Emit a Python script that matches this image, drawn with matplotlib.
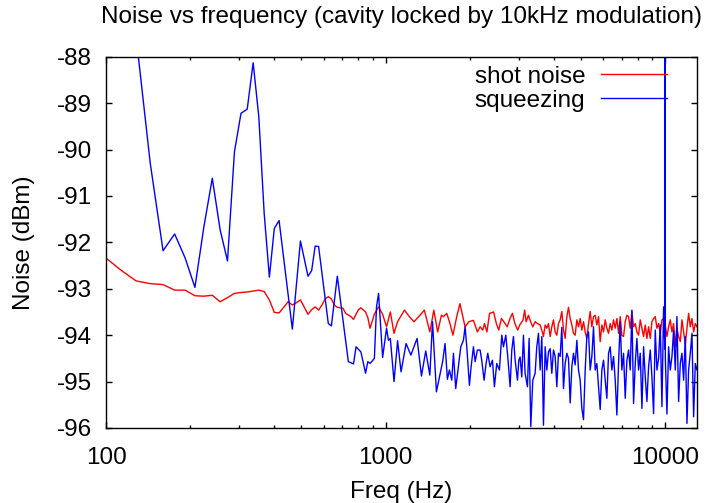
import matplotlib
matplotlib.use('Agg')
import matplotlib.pyplot as plt
from matplotlib.ticker import LogLocator, NullFormatter

plt.rcParams['font.family'] = ['Liberation Sans', 'DejaVu Sans']
plt.rcParams['axes.unicode_minus'] = False

# ---- data (Hz, dBm) ----
# low/mid frequency part of the shot noise trace
red_freq_low = [96, 112, 128, 144, 160, 176, 192, 208, 224, 240, 256, 272, 288, 304,
                320, 336, 352, 368, 384, 400, 416,
                432, 448, 464, 480, 496, 512, 528, 544, 560, 576, 592, 608, 624, 640, 656, 672,
                704, 720, 752, 768, 784, 800, 816, 848, 864, 880, 912, 944, 976, 1008, 1040,
                1072, 1104, 1168, 1216, 1264, 1328, 1376, 1440, 1488, 1536, 1584,
                1610, 1655, 1700, 1741, 1797, 1845, 1925, 1987, 2062, 2131, 2178, 2227, 2258,
                2304, 2355, 2435, 2490, 2540, 2597, 2648, 2724, 2787, 2843, 2901, 2968, 3020,
                3099, 3144, 3182, 3244, 3289, 3361, 3427, 3496]
red_db_low = [-92.25, -92.58, -92.83, -92.89, -92.91, -93.03, -93.03, -93.15, -93.16, -93.14,
              -93.28, -93.19, -93.10, -93.08, -93.07, -93.05, -93.03, -93.06, -93.24, -93.51,
              -93.52,
              -93.40, -93.28, -93.35, -93.30, -93.24, -93.40, -93.55, -93.45, -93.39, -93.46,
              -93.35, -93.22, -93.17, -93.22, -93.35, -93.40,
              -93.42, -93.53, -93.60, -93.66, -93.55, -93.45, -93.41, -93.50, -93.62, -93.85,
              -93.55, -93.39, -93.55, -93.82, -93.50, -93.96, -93.71, -93.46, -93.60, -93.71,
              -93.57, -93.46, -93.93, -93.46, -93.93, -93.57,
              -93.60, -93.53, -93.75, -94.00, -93.60, -93.32, -93.82, -93.71, -93.68, -93.93,
              -93.82, -93.89, -93.75, -93.93, -93.53, -93.50, -93.75, -93.89, -93.64, -93.71,
              -93.82, -93.64, -93.53, -93.75, -93.89, -93.78, -93.68, -93.46, -93.71, -93.57,
              -93.68, -93.82, -93.71, -93.75]

# low/mid frequency part of the squeezing trace
blue_freq_low = [96, 112, 128, 144, 160, 176, 192, 208, 224, 240, 256, 272, 288, 304,
                 320, 336, 352, 368, 384, 400, 416,
                 464, 496, 528, 544, 560, 576, 624, 640, 672,
                 736, 768, 784, 816, 848, 864, 880, 912, 928, 944, 976,
                 1008, 1024, 1040, 1072, 1104, 1136, 1184, 1232, 1296, 1344, 1392, 1440, 1472,
                 1520, 1600, 1632, 1664,
                 1692, 1725, 1749, 1782, 1822, 1858, 1899, 1925, 1952, 1995,
                 2023, 2062, 2091, 2131, 2178, 2208, 2251, 2288, 2320, 2365,
                 2411, 2451, 2498, 2554, 2604, 2640, 2692, 2736, 2789, 2828,
                 2867, 2907, 2963, 2996, 3028, 3070, 3113, 3155, 3217, 3262,
                 3307, 3362, 3427, 3474, 3523]
blue_db_low = [-84.0, -85.8, -87.54, -90.30, -92.18, -91.82, -92.34, -92.97, -91.66, -90.62,
               -91.73, -92.40, -90.05, -89.22, -89.13, -88.13, -89.29, -91.38, -92.75, -91.70,
               -91.53,
               -93.87, -91.97, -92.73, -92.61, -92.08, -92.09, -93.75, -93.80, -92.73,
               -94.57, -94.62, -94.25, -94.36, -94.82, -94.57, -94.61, -94.50, -93.39, -93.10,
               -94.48,
               -93.85, -94.11, -94.07, -95.00, -94.12, -94.79, -94.18, -94.43, -94.07, -94.88,
               -94.34, -94.86, -93.71, -95.22, -94.57, -94.18, -94.95,
               -94.75, -94.97, -94.39, -95.15, -94.68, -94.25, -94.11, -93.82, -94.25, -95.08,
               -94.68, -94.25, -94.57, -94.32, -94.32, -94.54, -94.97, -94.61, -94.39, -94.68,
               -94.54, -95.11, -94.61, -94.75, -94.00, -94.25, -94.00, -94.47, -95.11, -94.32,
               -94.03, -94.54, -94.97, -94.54, -94.47, -94.90, -94.00, -94.82, -95.11, -94.07,
               -95.97, -94.97, -94.82, -94.25, -93.96]

# high frequency part, both traces read on the same frequencies
hf_freq = [3572, 3621, 3671, 3722, 3773, 3826, 3879, 3932, 3987, 4042,
           4098, 4154, 4212, 4270, 4329, 4389, 4450, 4511, 4574, 4637,
           4701, 4766, 4832, 4899, 4967, 5035, 5105, 5176, 5247, 5320,
           5393, 5468, 5544, 5620, 5698, 5777, 5857, 5938, 6020, 6104,
           6188, 6274, 6360, 6448, 6538, 6628, 6720, 6813, 6907, 7003,
           7100, 7198, 7298, 7399, 7501, 7605, 7710, 7817, 7925, 8035,
           8146, 8259, 8373, 8489, 8606, 8725, 8846, 8968, 9092, 9218,
           9346, 9475, 9606, 9739, 9874, 9984, 10000, 10016, 10149, 10289, 10432, 10576,
           10722, 10870, 11021, 11173, 11328, 11484, 11643, 11804, 11968, 12133,
           12301, 12471, 12644, 12819, 12996]
red_db_high = [-93.78, -93.89, -94.03, -93.78, -93.85, -93.75, -94.03, -93.82, -93.67, -93.93,
               -94.00, -93.75, -93.67, -93.49, -93.89, -94.07, -93.60, -93.40, -93.64, -93.78,
               -93.96, -94.00, -93.67, -93.82, -93.64, -93.89, -93.71, -93.93, -94.07, -93.75,
               -93.49, -93.82, -93.60, -93.57, -93.78, -93.60, -94.14, -93.78, -93.93, -93.67,
               -93.85, -93.96, -93.75, -93.89, -93.67, -93.85, -93.64, -93.96, -93.60, -94.00,
               -94.03, -93.71, -93.57, -93.60, -93.85, -93.49, -93.82, -93.75, -93.93, -94.00,
               -93.67, -93.85, -94.03, -93.78, -94.07, -93.82, -94.07, -93.71, -93.64, -93.60,
               -93.85, -93.75, -93.96, -93.67, -93.64, -93.70, -93.75, -93.80, -94.03, -93.82,
               -93.67, -93.93,
               -93.75, -94.25, -93.85, -94.03, -94.14, -93.67, -93.93, -94.21, -93.85, -93.53,
               -93.82, -93.64, -93.93, -93.75, -93.82]
blue_db_high = [-94.75, -94.03, -95.94, -94.25, -94.75, -94.36, -94.29, -94.82, -94.32, -94.46,
                -95.11, -94.39, -94.46, -93.83, -95.15, -94.61, -94.39, -94.50, -95.46, -94.68,
                -94.39, -94.64, -94.11, -94.75, -94.97, -95.58, -95.82, -94.75, -94.03, -93.93,
                -94.75, -94.46, -93.82, -94.75, -94.61, -95.11, -95.60, -94.75, -94.54, -94.97,
                -95.36, -94.39, -94.25, -94.75, -94.46, -94.97, -95.72, -94.61, -93.71, -94.75,
                -94.39, -95.36, -94.54, -94.32, -94.75, -93.46, -95.47, -94.61, -94.07, -94.75,
                -94.39, -95.58, -94.25, -94.90, -95.43, -94.68, -94.32, -94.90, -95.69, -93.89,
                -94.75, -94.50, -93.78, -95.54, -93.39, -94.30, -70.00, -94.50, -95.70, -94.25,
                -94.75, -94.46,
                -93.89, -94.75, -93.60, -95.43, -94.61, -94.39, -94.97, -94.03, -95.90, -94.75,
                -94.39, -93.96, -95.76, -94.61, -94.75]

red_freq = red_freq_low + hf_freq
red_db = red_db_low + red_db_high
blue_freq = blue_freq_low + hf_freq
blue_db = blue_db_low + blue_db_high
assert len(red_freq) == len(red_db) and len(blue_freq) == len(blue_db)

fs = 17.5

fig = plt.figure(figsize=(7.14, 5.03), dpi=100)
ax = fig.add_axes([106 / 714, 75 / 503, 591 / 714, 371.3 / 503])

ax.plot(red_freq, red_db, color='#ff0000', lw=1.0, label='shot noise')
ax.plot(blue_freq, blue_db, color='#0000ff', lw=1.0, label='squeezing')

ax.set_xscale('log')
ax.set_xlim(100, 13000)
ax.set_ylim(-96, -88)
ax.set_xticks([100, 1000, 10000])
ax.set_xticklabels(['100', '1000', '10000'])
ax.xaxis.set_minor_locator(LogLocator(base=10, subs=range(2, 10)))
ax.xaxis.set_minor_formatter(NullFormatter())
ax.set_yticks(range(-96, -87))

ax.tick_params(which='both', direction='in', top=True, right=True,
               labelsize=fs, color='black')
ax.tick_params(which='major', length=4.5, width=1)
ax.tick_params(which='minor', length=2.4, width=1)
ax.tick_params(axis='x', pad=14)
ax.tick_params(axis='y', pad=10)
for sp in ax.spines.values():
    sp.set_linewidth(1.0)

ax.set_title('Noise vs frequency (cavity locked by 10kHz modulation)', fontsize=fs, pad=24)
ax.set_xlabel('Freq (Hz)', fontsize=fs, labelpad=8)
ax.set_ylabel('Noise (dBm)', fontsize=fs, labelpad=15.5)

ax.legend(loc='upper right', bbox_to_anchor=(0.949, 0.975), frameon=False,
          markerfirst=False, handlelength=2.7, handletextpad=0.65,
          borderaxespad=0, borderpad=0, labelspacing=0.08, fontsize=fs)

fig.savefig('out.png', dpi=100)
